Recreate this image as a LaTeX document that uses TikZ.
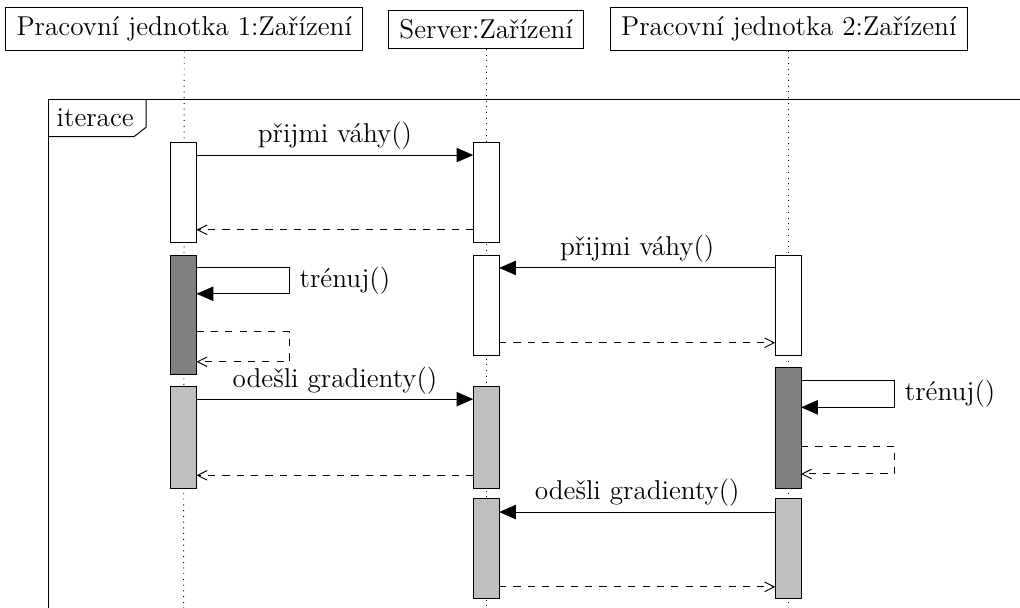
\documentclass[tikz,border=0pt]{standalone}
\usetikzlibrary{arrows.meta}
\pgfdeclarelayer{edgelayer}
\pgfdeclarelayer{nodelayer}
\pgfsetlayers{edgelayer,nodelayer,main}
\tikzset{font=\fontsize{11.4}{14}\selectfont}
\tikzstyle{none}=[inner sep=0pt]
\tikzstyle{head}=[draw,fill=white,inner xsep=4.5pt,inner ysep=3.9pt]
\tikzstyle{activ}=[draw,fill=white,minimum width=0.38cm,inner sep=0pt]
\tikzstyle{activdark}=[activ,fill=gray]
\tikzstyle{activlight}=[activ,fill=lightgray]
\tikzstyle{call}=[-{Triangle[length=7pt,width=6pt]}]
\tikzstyle{ret}=[dashed,-{Straight Barb[length=4pt,width=4pt]}]
\tikzstyle{life}=[dotted]
\tikzstyle{lbl}=[inner sep=2pt]

\begin{document}
\begin{tikzpicture}
	\useasboundingbox (0,0) rectangle (15,-8.94);
	\begin{pgfonlayer}{nodelayer}
		\node [style=head] (0) at (2.71, -0.43) {Pracovní jednotka 1:Zařízení};
		\node [style=head] (1) at (7.15, -0.43) {Server:Zařízení};
		\node [style=head] (2) at (11.60, -0.43) {Pracovní jednotka 2:Zařízení};
		\node [style=none] (3) at (2.70, -8.94) {};
		\node [style=none] (4) at (7.15, -8.94) {};
		\node [style=none] (5) at (11.59, -8.94) {};
		% activations
		\node [style=activ, minimum height=1.46cm] (6) at (2.70, -2.83) {};
		\node [style=activdark, minimum height=1.76cm] (7) at (2.70, -4.63) {};
		\node [style=activlight, minimum height=1.50cm] (8) at (2.70, -6.43) {};
		\node [style=activ, minimum height=1.46cm] (9) at (7.15, -2.83) {};
		\node [style=activ, minimum height=1.47cm] (10) at (7.15, -4.49) {};
		\node [style=activlight, minimum height=1.50cm] (11) at (7.15, -6.43) {};
		\node [style=activlight, minimum height=1.47cm] (12) at (7.15, -8.06) {};
		\node [style=activ, minimum height=1.47cm] (13) at (11.59, -4.49) {};
		\node [style=activdark, minimum height=1.78cm] (14) at (11.59, -6.29) {};
		\node [style=activlight, minimum height=1.47cm] (15) at (11.59, -8.06) {};
		% frame
		\node [style=none] (16) at (15, -1.47) {};
		\node [style=none] (17) at (0.71, -1.47) {};
		\node [style=none] (18) at (0.71, -8.94) {};
		\node [style=none] (19) at (2.15, -1.47) {};
		\node [style=none] (20) at (2.15, -1.87) {};
		\node [style=none] (21) at (1.97, -2.01) {};
		\node [style=none] (22) at (0.71, -2.01) {};
		\node [anchor=west] (23) at (0.71, -1.73) {iterace};
		% message ends
		\node [style=none] (24) at (2.89, -2.28) {};
		\node [style=none] (25) at (6.96, -2.28) {};
		\node [style=none] (26) at (6.96, -3.38) {};
		\node [style=none] (27) at (2.89, -3.38) {};
		\node [style=none] (28) at (11.40, -3.94) {};
		\node [style=none] (29) at (7.34, -3.94) {};
		\node [style=none] (30) at (7.34, -5.04) {};
		\node [style=none] (31) at (11.40, -5.04) {};
		\node [style=none] (32) at (2.89, -3.94) {};
		\node [style=none] (33) at (4.26, -3.94) {};
		\node [style=none] (34) at (4.26, -4.32) {};
		\node [style=none] (35) at (2.89, -4.32) {};
		\node [style=none] (36) at (2.89, -4.88) {};
		\node [style=none] (37) at (4.26, -4.88) {};
		\node [style=none] (38) at (4.26, -5.32) {};
		\node [style=none] (39) at (2.89, -5.32) {};
		\node [style=none] (40) at (2.89, -5.87) {};
		\node [style=none] (41) at (6.96, -5.87) {};
		\node [style=none] (42) at (6.96, -6.99) {};
		\node [style=none] (43) at (2.89, -6.99) {};
		\node [style=none] (44) at (11.78, -5.59) {};
		\node [style=none] (45) at (13.16, -5.59) {};
		\node [style=none] (46) at (13.16, -5.99) {};
		\node [style=none] (47) at (11.78, -5.99) {};
		\node [style=none] (48) at (11.78, -6.56) {};
		\node [style=none] (49) at (13.16, -6.56) {};
		\node [style=none] (50) at (13.16, -6.97) {};
		\node [style=none] (51) at (11.78, -6.97) {};
		\node [style=none] (52) at (11.40, -7.53) {};
		\node [style=none] (53) at (7.34, -7.53) {};
		\node [style=none] (54) at (7.34, -8.63) {};
		\node [style=none] (55) at (11.40, -8.63) {};
	\end{pgfonlayer}
	\begin{pgfonlayer}{edgelayer}
		\draw [style=life] (0) to (3.center);
		\draw [style=life] (1) to (4.center);
		\draw [style=life] (2.south -| 5) to (5.center);
		\draw (16.center) to (17.center) to (18.center);
		\draw (19.center) to (20.center) to (21.center) to (22.center);
	\end{pgfonlayer}
	\draw [style=call] (24.center) to node [style=lbl, above] {přijmi váhy()} (25.center);
	\draw [style=ret] (26.center) to (27.center);
	\draw [style=call] (28.center) to node [style=lbl, above] {přijmi váhy()} (29.center);
	\draw [style=ret] (30.center) to (31.center);
	\draw [style=call] (32.center) to (33.center) to node [style=lbl, right, inner sep=4pt] {trénuj()} (34.center) to (35.center);
	\draw [style=ret] (36.center) to (37.center) to (38.center) to (39.center);
	\draw [style=call] (40.center) to node [style=lbl, above] {odešli gradienty()} (41.center);
	\draw [style=ret] (42.center) to (43.center);
	\draw [style=call] (44.center) to (45.center) to node [style=lbl, right, inner sep=4pt] {trénuj()} (46.center) to (47.center);
	\draw [style=ret] (48.center) to (49.center) to (50.center) to (51.center);
	\draw [style=call] (52.center) to node [style=lbl, above] {odešli gradienty()} (53.center);
	\draw [style=ret] (54.center) to (55.center);
\end{tikzpicture}
\end{document}
